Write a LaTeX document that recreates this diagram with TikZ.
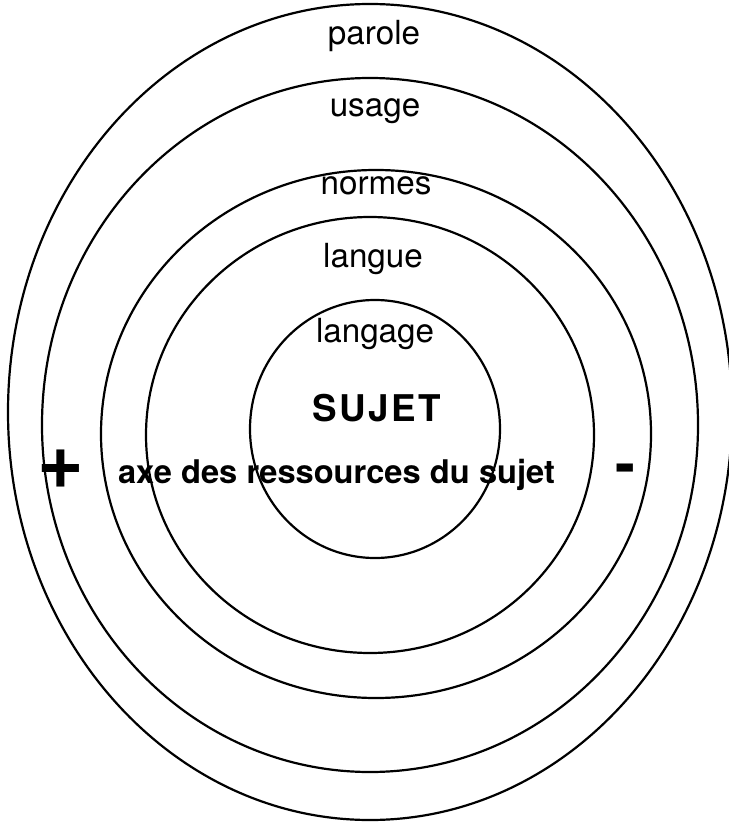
\documentclass[tikz,border=0pt]{standalone}
\usepackage{fontspec}
\setmainfont{TeX Gyre Heros}
\usepackage{tikz}

\begin{document}
\begin{tikzpicture}[x=0.5pt,y=0.5pt,outer sep=0pt,inner sep=0pt,
ring/.style={line width=1.1pt},
ringlabel/.style={anchor=base,font=\fontsize{16.6}{20}\selectfont},
axelabel/.style={anchor=base,font=\fontsize{16.3}{20}\selectfont\bfseries},
signlabel/.style={font=\fontsize{40}{44}\selectfont\bfseries}
]
\useasboundingbox (0,0) rectangle (728,-823);

\draw[ring] (370,-412) ellipse [x radius=362, y radius=408];
\draw[ring] (370,-425) ellipse [x radius=328, y radius=347];
\draw[ring] (376,-434) ellipse [x radius=275, y radius=264];
\draw[ring] (370,-435) ellipse [x radius=224, y radius=218];
\draw[ring] (375,-429) ellipse [x radius=125, y radius=129];

\node[ringlabel] (parole) at (374,-45) {parole};
\node[ringlabel] (usage) at (375,-117) {usage};
\node[ringlabel] (normes) at (376,-195) {normes};
\node[ringlabel] (langue) at (373,-268) {langue};
\node[ringlabel] (langage) at (375,-343) {langage};
\node[anchor=base,font=\fontsize{18.4}{22}\selectfont\bfseries\addfontfeature{LetterSpace=7}]
  (sujet) at (377,-421) {SUJET};
\node[axelabel] (axe) at (336.5,-483) {\makebox[218.5pt][s]{axe des ressources du sujet}};
\node[signlabel] (plus) at (61,-469) {+};
\node[font=\fontsize{30}{34}\selectfont\bfseries] (minus) at (625,-474) {-};
\end{tikzpicture}
\end{document}
